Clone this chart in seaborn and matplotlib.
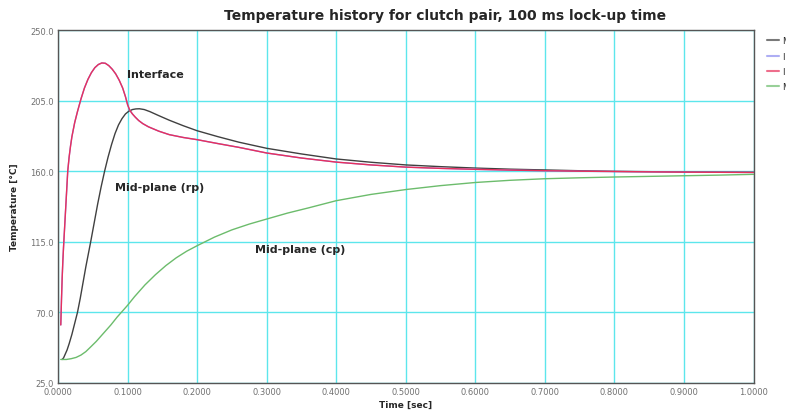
import numpy as np
import pandas as pd
import seaborn as sns
import matplotlib
matplotlib.use("Agg")
import matplotlib.pyplot as plt
from matplotlib.ticker import MultipleLocator, FormatStrFormatter
from matplotlib.lines import Line2D

# ---- data ----
t_interface = [0.004, 0.005, 0.006, 0.007, 0.008, 0.009, 0.010, 0.0115, 0.013, 0.014,
               0.016, 0.018, 0.020, 0.024, 0.028, 0.033, 0.038, 0.043, 0.048, 0.053,
               0.058, 0.063, 0.068, 0.073, 0.078, 0.083, 0.088, 0.093, 0.097, 0.100,
               0.103, 0.107, 0.111, 0.116, 0.122, 0.130, 0.145, 0.160, 0.180, 0.200,
               0.230, 0.260, 0.300, 0.350, 0.400, 0.450, 0.500, 0.550, 0.600, 0.650,
               0.700, 0.750, 0.800, 0.850, 0.900, 0.950, 1.000]
T_interface = [62, 78, 92, 103, 112, 120, 128, 140, 152, 160,
               169, 176, 182, 191, 198, 206, 213, 218.5, 222.8, 226,
               228, 229, 228.8, 227.3, 225, 222, 218, 213, 207.5, 202.5,
               199, 196.5, 194.5, 192.3, 190.3, 188.3, 185.5, 183.3, 181.5, 180.1,
               177.6, 175.2, 171.6, 168.4, 165.8, 164, 162.6, 161.8, 161.2, 160.7,
               160.3, 160, 159.8, 159.6, 159.4, 159.3, 159.2]

t_mid_rp = [0.006, 0.008, 0.010, 0.013, 0.016, 0.020, 0.024, 0.028, 0.032, 0.036,
            0.040, 0.047, 0.052, 0.057, 0.062, 0.067, 0.072, 0.077, 0.082, 0.087,
            0.092, 0.097, 0.102, 0.107, 0.112, 0.117, 0.124, 0.132, 0.145, 0.160,
            0.180, 0.200, 0.230, 0.260, 0.300, 0.350, 0.400, 0.450, 0.500, 0.550,
            0.600, 0.650, 0.700, 0.750, 0.800, 0.850, 0.900, 0.950, 1.000]
T_mid_rp = [40, 41, 43, 46, 50, 56, 63, 70, 79, 89,
            99, 115, 127, 139, 150, 160, 169, 177, 184, 189.5,
            193.5, 196.5, 198.3, 199.3, 199.7, 199.8, 199.3, 198, 195.4, 192.5,
            189, 185.8, 182, 178.5, 174.6, 171, 167.8, 165.7, 164, 162.9,
            162, 161.3, 160.8, 160.3, 159.9, 159.7, 159.5, 159.4, 159.3]

t_mid_cp = [0.004, 0.012, 0.019, 0.026, 0.033, 0.040, 0.047, 0.055, 0.062, 0.070,
            0.076, 0.085, 0.100, 0.110, 0.125, 0.140, 0.155, 0.170, 0.185, 0.200,
            0.225, 0.250, 0.275, 0.300, 0.330, 0.360, 0.400, 0.450, 0.500, 0.550,
            0.600, 0.650, 0.700, 0.750, 0.800, 0.850, 0.900, 0.950, 1.000]
T_mid_cp = [40, 40, 40.5, 41.3, 42.8, 45, 48, 51.5, 55, 59,
            62, 67, 74.5, 80, 87.5, 94, 99.8, 104.8, 109, 112.5,
            118, 122.6, 126.3, 129.5, 133.3, 136.6, 141.2, 145.2, 148.3, 150.8,
            152.8, 154.2, 155.2, 155.8, 156.3, 156.7, 157.1, 157.5, 158]

series_names = ["Mid-plane (rp)", "Interface (cp)", "Interface (rp)", "Mid-plane (cp)"]
series_colors = ["#404040", "#8c8cf0", "#e8305c", "#6cbc6c"]

x_ticks = [0.0, 0.1, 0.2, 0.3, 0.4, 0.5, 0.6, 0.7, 0.8, 0.9, 1.0]
y_ticks = [25.0, 70.0, 115.0, 160.0, 205.0, 250.0]

frames = []
for name, ts, Ts in [(series_names[0], t_mid_rp, T_mid_rp),
                     (series_names[1], t_interface, T_interface),
                     (series_names[2], t_interface, T_interface),
                     (series_names[3], t_mid_cp, T_mid_cp)]:
    frames.append(pd.DataFrame({"t": ts, "T": Ts, "series": name}))
df = pd.concat(frames, ignore_index=True)

sns.set_style("white")
plt.rcParams["font.family"] = ["DejaVu Sans"]

fig = plt.figure(figsize=(7.86, 4.14), dpi=100)
L, R, T, B = 58, 753.5, 31, 384
ax = fig.add_axes([L / 786, 1 - B / 414, (R - L) / 786, (B - T) / 414])

sns.lineplot(data=df, x="t", y="T", hue="series", hue_order=series_names,
             palette=dict(zip(series_names, series_colors)), sort=False,
             estimator=None, linewidth=1.0, ax=ax, legend=False)

ax.set_xlim(0, 1.0)
ax.set_ylim(25, 250)
ax.set_xticks(x_ticks)
ax.set_yticks(y_ticks)
ax.xaxis.set_minor_locator(MultipleLocator(0.05))
ax.yaxis.set_minor_locator(MultipleLocator(22.5))
ax.xaxis.set_major_formatter(FormatStrFormatter("%.4f"))
ax.yaxis.set_major_formatter(FormatStrFormatter("%.1f"))
ax.tick_params(axis="both", which="major", labelsize=6, colors="#707070",
               length=0, pad=3)
ax.tick_params(axis="both", which="minor", length=3, direction="in",
               color="#444444")
ax.grid(True, which="major", color="#5ce6ec", linewidth=1.0)
ax.set_axisbelow(True)
for s in ax.spines.values():
    s.set_color("#555555")
    s.set_linewidth(1.0)

ax.set_xlabel("Time [sec]", fontsize=6.5, fontweight="bold", labelpad=3)
ax.set_ylabel("Temperature [°C]", fontsize=6.5, fontweight="bold", labelpad=8)

fig.text(445 / 786, 1 - 16 / 414, "Temperature history for clutch pair, 100 ms lock-up time",
         ha="center", va="center", fontsize=10, fontweight="bold")

ax.text(0.099, 222, "Interface", fontsize=8, fontweight="bold", va="center")
ax.text(0.082, 150, "Mid-plane (rp)", fontsize=8, fontweight="bold", va="center")
ax.text(0.283, 110.4, "Mid-plane (cp)", fontsize=8, fontweight="bold", va="center")

# legend (cut off at the right edge, as in the reference)
handles = [Line2D([0], [0], color=c, lw=1.5, alpha=0.7) for c in series_colors]
fig.legend(handles, series_names, loc="upper left",
           bbox_to_anchor=(764 / 786, 1 - 34 / 414), frameon=False,
           fontsize=6, handlelength=1.4, handletextpad=0.5,
           labelspacing=0.75, borderaxespad=0)

fig.savefig("out.png", dpi=100)
